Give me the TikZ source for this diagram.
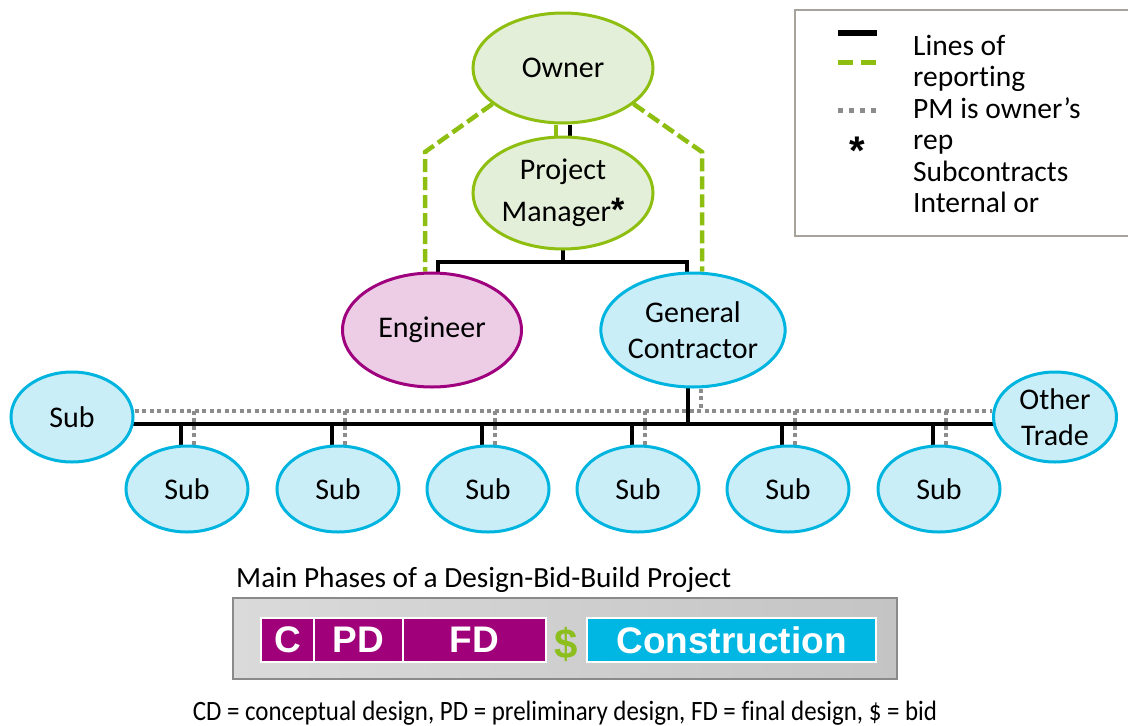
\documentclass[tikz,border=0pt]{standalone}
\usepackage{fontspec}
\setmainfont[Ligatures=NoCommon]{Carlito}
\newfontfamily\arialfont{Liberation Sans}
\newfontfamily\condfont[FakeStretch=0.89,Ligatures=NoCommon]{Carlito}
\usetikzlibrary{shapes.geometric}
\pgfdeclarelayer{bg}
\pgfsetlayers{bg,main}

\definecolor{owngreen}{RGB}{142,190,16}
\definecolor{ownfill}{RGB}{227,239,216}
\definecolor{engline}{RGB}{158,0,126}
\definecolor{engfill}{RGB}{237,205,230}
\definecolor{gcline}{RGB}{0,180,224}
\definecolor{gcfill}{RGB}{202,238,248}
\definecolor{dotgray}{RGB}{140,140,140}
\definecolor{barpurple}{RGB}{160,0,122}
\definecolor{barblue}{RGB}{0,182,226}
\definecolor{dollargreen}{RGB}{140,190,30}
\definecolor{legendframe}{RGB}{168,162,156}
\definecolor{boxleft}{RGB}{218,218,218}
\definecolor{boxmid}{RGB}{244,244,244}
\definecolor{boxright}{RGB}{196,196,196}
\definecolor{boxframe}{RGB}{138,138,138}

\tikzset{
  ov/.style={ellipse, line width=3pt, inner sep=0pt, align=center,
    font=\fontsize{30}{34}\selectfont},
  ownernode/.style={ov, draw=owngreen, fill=ownfill, minimum width=180pt, minimum height=110pt},
  engnode/.style={ov, draw=engline, fill=engfill, minimum width=179pt, minimum height=114pt},
  gcnode/.style={ov, draw=gcline, fill=gcfill, minimum width=180pt, minimum height=114pt},
  subnode/.style={ov, draw=gcline, fill=gcfill, minimum width=122pt, minimum height=86pt},
  blk/.style={line width=4pt, black},
  grn/.style={line width=4.5pt, owngreen, dash pattern=on 13pt off 5pt},
  dotln/.style={line width=4pt, dotgray, dash pattern=on 4pt off 3.5pt},
  legtext/.style={anchor=base west, inner sep=0pt, font=\fontsize{29.5}{32}\selectfont},
  bar/.style={rectangle, draw=white, line width=2pt, inner sep=0pt, minimum height=44pt,
    text=white, font=\arialfont\bfseries\fontsize{37}{37}\selectfont},
}

\begin{document}
\begin{tikzpicture}[x=1pt,y=-1pt]
\useasboundingbox (0,0) rectangle (1128,726);

% ---------- nodes ----------
\node[ownernode] (owner) at (563,68) {Owner};
\node[ownernode, minimum height=112pt, font=\fontsize{30}{42}\selectfont] (pm) at (563,193) {Project\\Manager{\arialfont\bfseries\fontsize{34}{34}\selectfont *}};
\node[engnode] (eng) at (432,330) {Engineer};
\node[gcnode, font=\fontsize{30}{36}\selectfont] (gc) at (693,330) {General\\Contractor};
\node[subnode, minimum height=90pt] (subL) at (72,417) {Sub};
\node[subnode, minimum width=123pt, minimum height=90pt, font=\fontsize{30}{36}\selectfont] (other) at (1055,417) {Other\\Trade};
\node[subnode] (s1) at (187,489) {Sub};
\node[subnode] (s2) at (338,489) {Sub};
\node[subnode] (s3) at (488,489) {Sub};
\node[subnode] (s4) at (638,489) {Sub};
\node[subnode] (s5) at (788,489) {Sub};
\node[subnode] (s6) at (939,489) {Sub};

% ---------- connectors ----------
\coordinate (busy) at (0,424);
\coordinate (doty) at (0,411);
\coordinate (jy) at (0,262);
\coordinate (gl) at (425,152);
\coordinate (gr) at (702,152);
\begin{pgfonlayer}{bg}
  \draw[blk] ([xshift=7pt]owner.south) -- ([xshift=7pt]pm.north);
  \draw[grn] ([xshift=-7pt]owner.south) -- ([xshift=-7pt]pm.north);
  \draw[grn] (owner.207) -- (gl) -- (eng.north -| gl);
  \draw[grn] (owner.333) -- (gr) -- (gc.north -| gr);
  \draw[blk] (pm.center) -- (pm.center |- jy);
  \draw[blk] ([xshift=6pt]eng.center) -- ([xshift=6pt]eng.center |- jy)
     -- ([xshift=-6pt]gc.center |- jy) -- ([xshift=-6pt]gc.center);
  \draw[blk] ([xshift=-5pt]gc.center) -- ([xshift=-5pt]gc.center |- busy);
  \draw[dotln] ([xshift=8pt]gc.south) -- ([xshift=8pt]gc.south |- doty);
  \draw[blk] (subL.center |- busy) -- (other.center |- busy);
  \draw[dotln] (subL.east |- doty) -- (other.west |- doty);
  \foreach \i in {1,...,6}{
    \draw[blk] ([xshift=-6pt]s\i.center) -- ([xshift=-6pt]s\i.center |- busy);
    \draw[dotln] ([xshift=7pt]s\i.north) -- ([xshift=7pt]s\i.north |- doty);
  }
\end{pgfonlayer}

% ---------- legend ----------
\draw[legendframe, line width=2.5pt] (1132,10) -- (795,10) -- (795,236) -- (1132,236);
\draw[line width=5.5pt] (838,33) -- (877,33);
\draw[owngreen, line width=5pt, dash pattern=on 15pt off 8pt] (838,62) -- (877,62);
\draw[dotgray, line width=5pt, dash pattern=on 5pt off 6pt] (838,110) -- (877,110);
\node[anchor=base, inner sep=0pt, font=\arialfont\bfseries\fontsize{40}{40}\selectfont] (star) at (857,164) {*};
\node[legtext] (leg1) at (913,55) {Lines of};
\node[legtext] (leg2) at (913,86.5) {reporting};
\node[legtext] (leg3) at (913,118) {PM is owner’s};
\node[legtext] (leg4) at (913,149.5) {rep};
\node[legtext] (leg5) at (913,181) {Subcontracts};
\node[legtext] (leg6) at (913,212.5) {Internal or};

% ---------- phases ----------
\node[anchor=base west, inner sep=0pt, font=\fontsize{29.3}{29}\selectfont] (title) at (236,587) {Main Phases of a Design-Bid-Build Project};
\shade[left color=boxleft, middle color=boxmid, right color=boxright] (233,598) rectangle (897,679);
\draw[boxframe, line width=2pt] (233,598) rectangle (897,679);
\node[bar, fill=barpurple, minimum width=53pt] (pc) at (287.5,640) {C};
\node[bar, fill=barpurple, minimum width=89pt] (ppd) at (358.5,640) {PD};
\node[bar, fill=barpurple, minimum width=143pt] (pfd) at (474.5,640) {FD};
\node[text=dollargreen, inner sep=0pt, font=\arialfont\bfseries\fontsize{42}{42}\selectfont] (bid) at (566,644) {\$};
\node[bar, fill=barblue, minimum width=289pt] (pcon) at (731.5,640) {Construction};

\node[anchor=base, inner sep=0pt, font=\condfont\fontsize{28}{28}\selectfont] (note) at (565,720) {CD = conceptual design, PD = preliminary design, FD = final design, \$ = bid};
\end{tikzpicture}
\end{document}
